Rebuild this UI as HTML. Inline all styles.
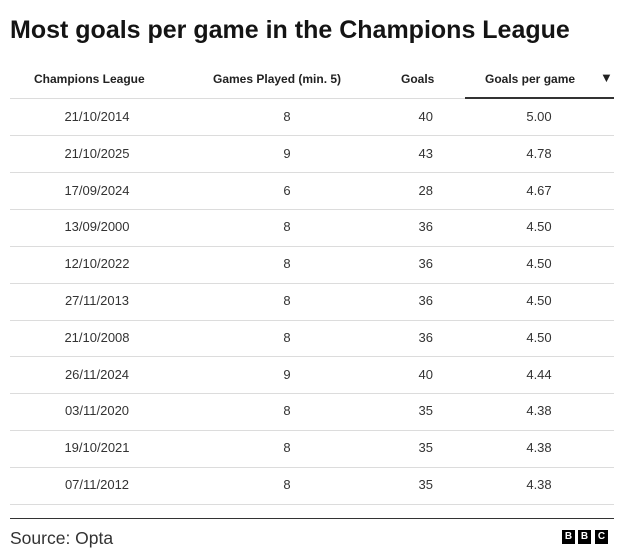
<!DOCTYPE html>
<html><head><meta charset="utf-8"><style>
body{margin:0;width:623px;height:558px;background:#fff;font-family:"Liberation Sans",sans-serif;color:#141414;position:relative;overflow:hidden}
.t{position:absolute;left:10px;top:16px;font-size:25px;font-weight:bold;letter-spacing:0px}
.h,.c{position:absolute;font-size:12px;white-space:nowrap}
.h{font-weight:bold;top:72px;color:#222}
.c{font-size:13px;color:#333}
.ln{position:absolute;left:10px;width:604px;height:1px;background:#dcdcdc}
.b{position:absolute;top:530px;width:13px;height:14px;background:#000;color:#fff;font-size:10px;font-weight:bold;text-align:center;line-height:14px}
</style></head><body>
<div class="t">Most goals per game in the Champions League</div>
<div class="h" style="left:34px">Champions League</div>
<div class="h" style="left:213px">Games Played (min. 5)</div>
<div class="h" style="left:401px">Goals</div>
<div class="h" style="left:485px">Goals per game</div>
<div class="h" style="left:600px;top:70px;font-size:13px">▼</div>
<div class="ln" style="top:98px"></div>
<div style="position:absolute;left:465px;top:97px;width:149px;height:2px;background:#333"></div>
<div id="rows"></div>
<div style="position:absolute;left:10px;top:518px;width:604px;height:1px;background:#333"></div>
<div style="position:absolute;left:10px;top:528px;font-size:17.5px;color:#333">Source: Opta</div>
<div class="b" style="left:562px">B</div><div class="b" style="left:578px">B</div><div class="b" style="left:595px">C</div>
<script>
var d=[["21/10/2014",8,40,"5.00"],["21/10/2025",9,43,"4.78"],["17/09/2024",6,28,"4.67"],["13/09/2000",8,36,"4.50"],["12/10/2022",8,36,"4.50"],["27/11/2013",8,36,"4.50"],["21/10/2008",8,36,"4.50"],["26/11/2024",9,40,"4.44"],["03/11/2020",8,35,"4.38"],["19/10/2021",8,35,"4.38"],["07/11/2012",8,35,"4.38"]];
var h="";d.forEach(function(r,i){var y=109+i*36.8;
h+='<div class="c" style="left:47px;top:'+y+'px;width:100px;text-align:center">'+r[0]+'</div>';
h+='<div class="c" style="left:237px;top:'+y+'px;width:100px;text-align:center">'+r[1]+'</div>';
h+='<div class="c" style="left:333px;top:'+y+'px;width:100px;text-align:right">'+r[2]+'</div>';
h+='<div class="c" style="left:489px;top:'+y+'px;width:100px;text-align:center">'+r[3]+'</div>';
h+='<div class="ln" style="top:'+Math.round(135+i*36.9)+'px"></div>';});
document.getElementById("rows").innerHTML=h;
</script>
</body></html>
